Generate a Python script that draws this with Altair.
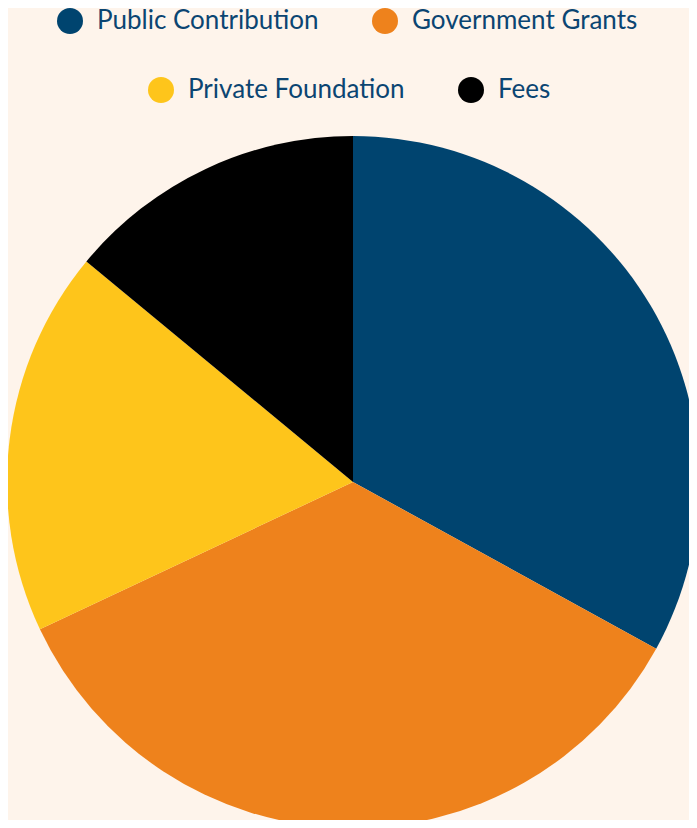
import altair as alt
import pandas as pd

categories = ["Public Contribution", "Government Grants", "Private Foundation", "Fees"]
values = [33, 35, 18, 14]
colors = ["#00446F", "#EE821C", "#FEC51B", "#000000"]
order = [1, 2, 3, 4]

df = pd.DataFrame({"category": categories, "value": values, "order": order})
total = sum(values)

FONT = "Lato"
TEXT = "#0B4572"


def legend(x, y):
    return alt.Legend(
        orient="none", legendX=x, legendY=y, direction="horizontal", title=None,
        symbolType="circle", symbolSize=676, symbolStrokeWidth=0, symbolOpacity=1,
        labelFont=FONT, labelFontSize=26, labelColor=TEXT, labelOffset=14,
        columnPadding=53, padding=0, labelLimit=400,
    )


base = (
    alt.Chart(df)
    .transform_window(end="sum(value)", sort=[alt.SortField("order")], frame=[None, 0])
    .transform_calculate(start="datum.end - datum.value")
)

row1 = base.transform_filter(alt.FieldOneOfPredicate(field="category", oneOf=categories[:2])).mark_arc(strokeWidth=0, outerRadius=346).encode(
    theta=alt.Theta("start:Q", scale=alt.Scale(domain=[0, total])),
    theta2="end:Q",
    color=alt.Color("category:N", scale=alt.Scale(domain=categories[:2], range=colors[:2]), legend=legend(40, -136)),
)
row2 = base.transform_filter(alt.FieldOneOfPredicate(field="category", oneOf=categories[2:])).mark_arc(strokeWidth=0, outerRadius=346).encode(
    theta=alt.Theta("start:Q", scale=alt.Scale(domain=[0, total])),
    theta2="end:Q",
    color=alt.Color("category:N", scale=alt.Scale(domain=categories[2:], range=colors[2:]), legend=legend(131, -67)),
)

chart = (
    alt.layer(row1, row2)
    .resolve_scale(color="independent")
    .properties(
        width=672, height=676, background="#FEF4EB",
        padding={"left": 9, "top": 136, "right": 0, "bottom": 0},
        autosize=alt.AutoSizeParams(type="none"),
    )
    .configure_view(stroke=None)
)

chart.save("out.html", embed_options={"renderer": "svg", "actions": False})
